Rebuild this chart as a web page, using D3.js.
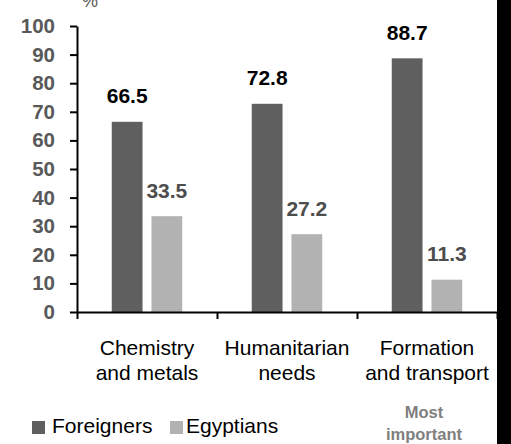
<!DOCTYPE html>
<html>
<head>
<meta charset="utf-8">
<script src="https://cdn.jsdelivr.net/npm/d3@7"></script>
<style>
  body { margin: 0; background: #fff; }
  svg { display: block; font-family: "Liberation Sans", Arial, sans-serif; }
</style>
</head>
<body>
<svg></svg>
<script>
let categories = ['Chemistry and metals', 'Humanitarian needs', 'Formation and transport']
let categoryLines = [['Chemistry', 'and metals'], ['Humanitarian', 'needs'], ['Formation', 'and transport']]
let seriesNames = ['Foreigners', 'Egyptians']
let foreigners = [66.5, 72.8, 88.7]
let egyptians = [33.5, 27.2, 11.3]
let yTicks = [0, 10, 20, 30, 40, 50, 60, 70, 80, 90, 100]

let width = 511
let height = 444
let colors = { Foreigners: '#5f5f5f', Egyptians: '#b2b2b2' }
let labelColors = { Foreigners: '#000000', Egyptians: '#4d4d4d' }

let svg = d3.select('svg').attr('width', width).attr('height', height)

let xScale = d3.scaleBand().domain(categories).range([77, 497])
let innerScale = d3.scaleBand().domain(seriesNames).range([0, xScale.bandwidth()])
  .paddingInner(0.225).paddingOuter(0.875)
let yScale = d3.scaleLinear().domain([0, 100]).range([312, 26])
let edgeScale = d3.scaleLinear().domain([0, categories.length]).range([77, 497])

let rows = categories.map((c, i) => ({ cat: c, Foreigners: foreigners[i], Egyptians: egyptians[i] }))

// bars
let groups = svg.selectAll('g.group')
  .data(rows)
  .enter()
  .append('g')
  .attr('class', 'group')
  .attr('transform', d => 'translate(' + xScale(d.cat) + ',0)')

groups.selectAll('rect')
  .data(d => seriesNames.map(s => ({ key: s, value: d[s] })))
  .enter()
  .append('rect')
  .attr('x', d => innerScale(d.key))
  .attr('width', innerScale.bandwidth())
  .attr('y', d => yScale(d.value))
  .attr('height', d => yScale(0) - yScale(d.value))
  .attr('fill', d => colors[d.key])

groups.selectAll('text.val')
  .data(d => seriesNames.map(s => ({ key: s, value: d[s] })))
  .enter()
  .append('text')
  .attr('class', 'val')
  .attr('x', d => innerScale(d.key) + innerScale.bandwidth() / 2)
  .attr('y', d => yScale(d.value) - 18.5)
  .attr('text-anchor', 'middle')
  .style('font-size', '21px')
  .style('font-weight', 'bold')
  .attr('fill', d => labelColors[d.key])
  .text(d => d.value.toFixed(1))

// y axis
let yAxis = d3.axisLeft(yScale).tickValues(yTicks).tickSize(7).tickSizeOuter(0).tickPadding(15)
let yg = svg.append('g').attr('transform', 'translate(77,0)').call(yAxis)
yg.select('.domain').attr('stroke', '#000').attr('stroke-width', 2)
yg.selectAll('.tick line').attr('stroke', '#000').attr('stroke-width', 2)
yg.selectAll('.tick text')
  .style('font-family', '"Liberation Sans", Arial, sans-serif')
  .style('font-size', '20.5px')
  .style('font-weight', 'bold')
  .attr('fill', '#595959')

// x axis
let xAxis = d3.axisBottom(edgeScale).ticks(categories.length).tickValues(d3.range(categories.length + 1))
  .tickSize(7).tickSizeOuter(0).tickFormat('')
let xg = svg.append('g').attr('transform', 'translate(0,312)').call(xAxis)
xg.select('.domain').attr('stroke', '#000').attr('stroke-width', 2)
xg.selectAll('.tick line').attr('stroke', '#000').attr('stroke-width', 2)

// category labels
categoryLines.forEach((lines, i) => {
  let t = svg.append('text')
    .attr('x', xScale(categories[i]) + xScale.bandwidth() / 2)
    .attr('y', 355)
    .attr('text-anchor', 'middle')
    .style('font-size', '21px')
    .attr('fill', '#000')
  lines.forEach((ln, j) => {
    t.append('tspan')
      .attr('x', xScale(categories[i]) + xScale.bandwidth() / 2)
      .attr('dy', j === 0 ? 0 : 25)
      .text(ln)
  })
})

// legend
let legendX = [32, 170]
seriesNames.forEach((s, i) => {
  svg.append('rect')
    .attr('x', legendX[i]).attr('y', 421)
    .attr('width', 13).attr('height', 13)
    .attr('fill', colors[s])
  svg.append('text')
    .attr('x', legendX[i] + (i === 0 ? 20 : 16))
    .attr('y', 433)
    .style('font-size', '21px')
    .attr('fill', '#000')
    .text(s)
})

// note at bottom right
svg.append('text')
  .attr('x', 424).attr('y', 418)
  .attr('text-anchor', 'middle')
  .style('font-size', '16.5px').style('font-weight', 'bold')
  .attr('fill', '#7f7f7f')
  .text('Most')
svg.append('text')
  .attr('x', 424).attr('y', 440)
  .attr('text-anchor', 'middle')
  .style('font-size', '16.5px').style('font-weight', 'bold')
  .attr('fill', '#7f7f7f')
  .text('important')

// clipped unit mark at top
svg.append('text')
  .attr('x', 82).attr('y', 7)
  .style('font-size', '18px')
  .attr('fill', '#595959')
  .text('%')

// black border strip on the right
svg.append('rect')
  .attr('x', 497).attr('y', 0)
  .attr('width', 14).attr('height', height)
  .attr('fill', '#000')
</script>
</body>
</html>
